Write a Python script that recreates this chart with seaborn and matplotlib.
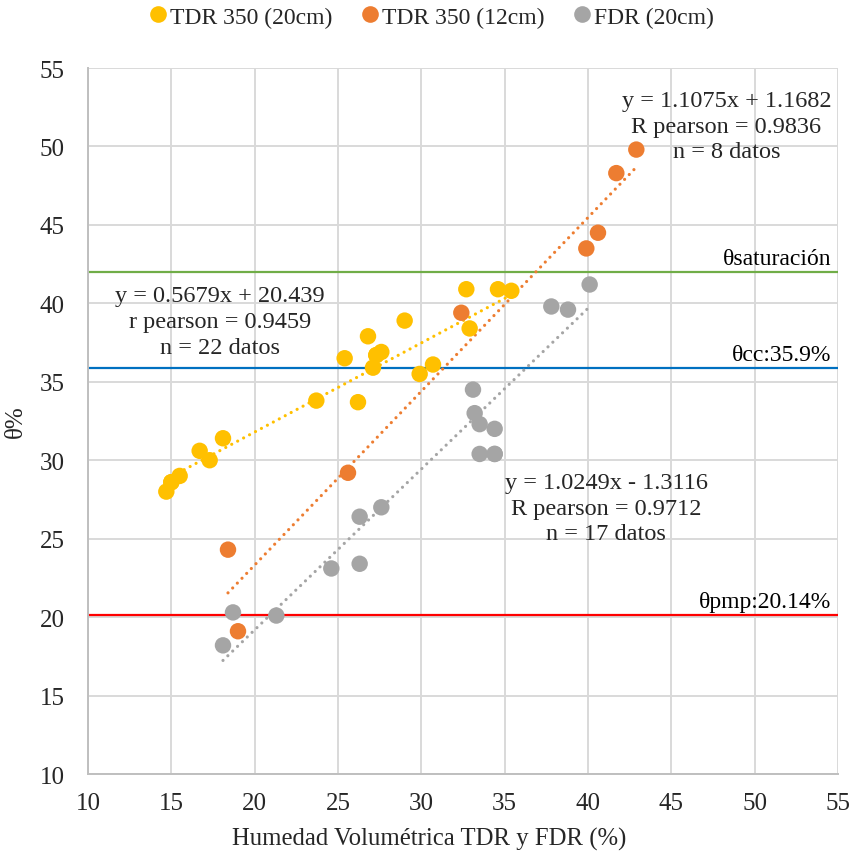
import numpy as np
import pandas as pd
import matplotlib
matplotlib.use("Agg")
import matplotlib.pyplot as plt
from matplotlib.lines import Line2D
import seaborn as sns

# --- measured data -------------------------------------------------------
tdr20_x = [14.7, 15.0, 15.0, 15.5, 16.7, 17.3, 18.1, 23.7, 26.2, 25.4, 26.8,
           27.1, 27.3, 27.3, 27.6, 29.0, 29.9, 30.7, 32.7, 32.9, 34.6, 35.4]
tdr20_y = [28.0, 28.6, 28.6, 29.0, 30.6, 30.0, 31.4, 33.8, 33.7, 36.5, 37.9,
           35.9, 36.7, 36.7, 36.9, 38.9, 35.5, 36.1, 40.9, 38.4, 40.9, 40.8]

tdr12_x = [18.4, 19.0, 25.6, 32.4, 39.9, 40.6, 41.7, 42.9]
tdr12_y = [24.3, 19.1, 29.2, 39.4, 43.5, 44.5, 48.3, 49.8]

fdr20_x = [18.1, 18.7, 21.3, 24.6, 26.3, 26.3, 27.6, 33.1, 33.2, 33.5, 34.4,
           33.5, 34.4, 34.4, 37.8, 38.8, 40.1]
fdr20_y = [18.2, 20.3, 20.1, 23.1, 23.4, 26.4, 27.0, 34.5, 33.0, 32.3, 32.0,
           30.4, 30.4, 30.4, 39.8, 39.6, 41.2]

series_names = ["TDR 350 (20cm)", "TDR 350 (12cm)", "FDR (20cm)"]
series_colors = ["#FFC000", "#ED7D31", "#A5A5A5"]

# linear fits (slope, intercept) reported for each sensor
fit_slopes = [0.5679, 1.1075, 1.0249]
fit_intercepts = [20.439, 1.1682, -1.3116]
fit_labels = [
    "y = 0.5679x + 20.439\nr pearson = 0.9459\nn = 22 datos",
    "y = 1.1075x + 1.1682\nR pearson = 0.9836\nn = 8 datos",
    "y = 1.0249x - 1.3116\nR pearson = 0.9712\nn = 17 datos",
]

# soil moisture thresholds
thr_values = [42.0, 35.9, 20.14]
thr_labels = ["θsaturación", "θcc:35.9%", "θpmp:20.14%"]
thr_colors = ["#70AD47", "#0070C0", "#FF0000"]

x_ticks = [10, 15, 20, 25, 30, 35, 40, 45, 50, 55]
y_ticks = [10, 15, 20, 25, 30, 35, 40, 45, 50, 55]

# --- figure --------------------------------------------------------------
sns.set_theme(style="whitegrid")
plt.rcParams["font.family"] = ["Liberation Serif", "DejaVu Serif"]

df = pd.concat([
    pd.DataFrame({"x": tdr20_x, "y": tdr20_y, "serie": series_names[0]}),
    pd.DataFrame({"x": tdr12_x, "y": tdr12_y, "serie": series_names[1]}),
    pd.DataFrame({"x": fdr20_x, "y": fdr20_y, "serie": series_names[2]}),
], ignore_index=True)

fig = plt.figure(figsize=(8.51, 8.54), dpi=100)
ax = fig.add_axes([0.1034, 0.0925, 0.8813, 0.8267])

ax.set_xlim(10, 55)
ax.set_ylim(10, 55)
ax.set_xticks(x_ticks)
ax.set_yticks(y_ticks)
ax.grid(True, color="#D9D9D9", linewidth=1.4)
ax.set_axisbelow(True)
for side in ["top", "right"]:
    ax.spines[side].set_visible(False)
for side in ["left", "bottom"]:
    ax.spines[side].set_color("#BFBFBF")
    ax.spines[side].set_linewidth(1.4)

# threshold lines
for v, lab, col in zip(thr_values, thr_labels, thr_colors):
    ax.axhline(v, color=col, linewidth=1.6, zorder=1.5)
    ax.text(54.6, v + 0.2, lab, ha="right", va="bottom", fontsize=17,
            color="black")

# trend lines over each series' x range
for xs, m, b, col in zip([tdr20_x, tdr12_x, fdr20_x], fit_slopes,
                         fit_intercepts, series_colors):
    xx = np.array([min(xs), max(xs)])
    ax.plot(xx, m * xx + b, color=col, linewidth=2.3,
            linestyle=(0, (0.01, 2.1)), dash_capstyle="round", zorder=2)

sns.scatterplot(data=df, x="x", y="y", hue="serie", hue_order=series_names,
                palette=series_colors, s=140, edgecolor="none", ax=ax,
                legend=False, zorder=3)

# fit annotations
for (tx, ty), lab in zip([(17.9, 38.85), (48.3, 51.3), (41.1, 26.95)],
                         fit_labels):
    ax.text(tx, ty, lab, ha="center", va="center", fontsize=17.5,
            linespacing=1.3)

ax.tick_params(axis="x", labelsize=18, length=0, pad=13)
ax.tick_params(axis="y", labelsize=18, length=0, pad=17)
ax.set_xlabel("Humedad Volumétrica TDR y FDR (%)", fontsize=17.8)
ax.xaxis.set_label_coords(0.455, -0.075)
ax.set_ylabel("θ%", fontsize=18)
ax.yaxis.set_label_coords(-0.081, 0.5)

handles = [Line2D([0], [0], marker="o", linestyle="none", markersize=12,
                  markerfacecolor=c, markeredgecolor="none")
           for c in series_colors]
fig.legend(handles, series_names, loc="center", bbox_to_anchor=(0.505, 0.979),
           ncol=3, frameon=False, fontsize=17, handletextpad=0.0,
           columnspacing=1.1, handlelength=1.0)

fig.savefig("out.png", dpi=100)
